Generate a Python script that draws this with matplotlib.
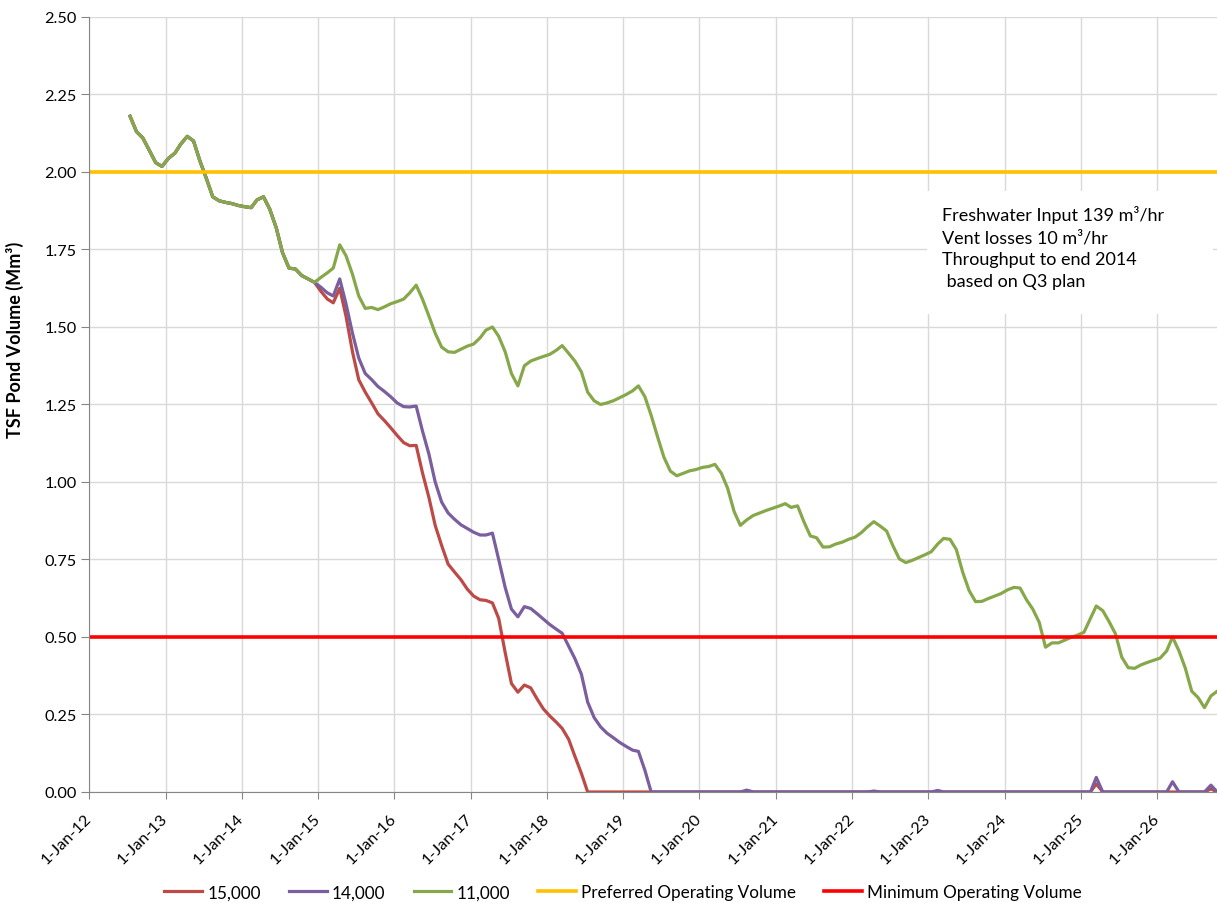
import pandas as pd
import matplotlib
matplotlib.use('Agg')
import matplotlib.pyplot as plt
import matplotlib.dates as mdates
from matplotlib.patches import Rectangle
from matplotlib.ticker import FuncFormatter, MultipleLocator

plt.rcParams['font.family'] = ['Lato', 'DejaVu Sans']

# monthly pond volume (Mm3), one value per month from Jul 2012
first_month = '2012-07-01'

green_11000 = [
    2.18, 2.13, 2.109, 2.07, 2.03, 2.018,                              # 2012
    2.044, 2.061, 2.09, 2.115, 2.10, 2.035, 1.98, 1.92, 1.907, 1.902, 1.898, 1.892,  # 2013
    1.888, 1.885, 1.91, 1.92, 1.88, 1.82, 1.74, 1.69, 1.687, 1.666, 1.655, 1.644,    # 2014
    1.66, 1.675, 1.69, 1.765, 1.73, 1.67, 1.60, 1.56, 1.563, 1.556, 1.565, 1.575,    # 2015
    1.582, 1.59, 1.61, 1.635, 1.59, 1.535, 1.48, 1.435, 1.42, 1.418, 1.428, 1.438,   # 2016
    1.445, 1.465, 1.49, 1.50, 1.47, 1.42, 1.35, 1.31, 1.375, 1.39, 1.398, 1.405,     # 2017
    1.412, 1.425, 1.44, 1.415, 1.39, 1.355, 1.29, 1.262, 1.25, 1.255, 1.262, 1.272,  # 2018
    1.282, 1.294, 1.31, 1.275, 1.215, 1.145, 1.08, 1.035, 1.02, 1.028, 1.036, 1.040, # 2019
    1.047, 1.05, 1.057, 1.028, 0.98, 0.905, 0.86, 0.878, 0.892, 0.90, 0.908, 0.915,  # 2020
    0.922, 0.93, 0.918, 0.923, 0.872, 0.826, 0.82, 0.79, 0.791, 0.80, 0.806, 0.815,  # 2021
    0.822, 0.837, 0.855, 0.872, 0.858, 0.842, 0.795, 0.752, 0.74, 0.747, 0.756, 0.765,  # 2022
    0.775, 0.80, 0.818, 0.815, 0.782, 0.708, 0.65, 0.614, 0.615, 0.624, 0.632, 0.64,    # 2023
    0.652, 0.66, 0.658, 0.62, 0.59, 0.547, 0.467, 0.481, 0.481, 0.49, 0.499, 0.506,     # 2024
    0.515, 0.56, 0.60, 0.585, 0.55, 0.51, 0.435, 0.401, 0.399, 0.41, 0.418, 0.425,      # 2025
    0.432, 0.455, 0.50, 0.455, 0.40, 0.325, 0.305, 0.272, 0.31, 0.325,                  # 2026
]

# 15,000 and 14,000 follow the 11,000 case until Dec 2014
red_15000 = green_11000[:29] + [
    1.644, 1.615, 1.59, 1.578, 1.625, 1.535, 1.42, 1.33, 1.29, 1.255, 1.22, 1.198,
    1.175, 1.15, 1.127, 1.117, 1.118, 1.03, 0.95, 0.86, 0.795, 0.735, 0.71, 0.685,
    0.655, 0.632, 0.62, 0.618, 0.61, 0.56, 0.45, 0.35, 0.322, 0.345, 0.336, 0.30,
    0.268, 0.245, 0.225, 0.205, 0.17, 0.115, 0.06, 0.0,
] + [0.0] * 79 + [0.026] + [0.0] * 17 + [0.01, 0.0]

purple_14000 = green_11000[:29] + [
    1.644, 1.628, 1.61, 1.60, 1.655, 1.575, 1.48, 1.40, 1.35, 1.33, 1.308, 1.292,
    1.275, 1.255, 1.243, 1.242, 1.245, 1.165, 1.09, 1.0, 0.935, 0.90, 0.88, 0.862,
    0.85, 0.838, 0.829, 0.829, 0.835, 0.75, 0.66, 0.59, 0.565, 0.598, 0.592, 0.575,
    0.558, 0.54, 0.525, 0.512, 0.47, 0.43, 0.38, 0.29, 0.24, 0.21, 0.19, 0.175,
    0.16, 0.147, 0.135, 0.131, 0.07, 0.0,
] + ([0.0] * 14 + [0.006] + [0.0] * 19 + [0.003] + [0.0] * 9 + [0.005]
     + [0.0] * 24 + [0.047] + [0.0] * 11 + [0.033] + [0.0] * 5 + [0.022, 0.0])

preferred_volume = 2.00
minimum_volume = 0.50

note = ('Freshwater Input 139 m\u00b3/hr\n'
        'Vent losses 10 m\u00b3/hr\n'
        'Throughput to end 2014\n'
        ' based on Q3 plan')

months = pd.date_range(first_month, periods=len(green_11000), freq='MS') + pd.Timedelta(days=14)

fig = plt.figure(figsize=(12.17, 9.04), dpi=100)
ax = fig.add_axes([0.0732, 0.1228, 0.9268, 0.8573])

lw = 2.3
ax.plot(months, red_15000, color='#BC4A47', lw=lw, label='15,000')
ax.plot(months, purple_14000, color='#7A5E9E', lw=lw, label='14,000')
ax.plot(months, green_11000, color='#86A84A', lw=lw, label='11,000')
ax.axhline(preferred_volume, color='#FFC000', lw=2.6, label='Preferred Operating Volume')
ax.axhline(minimum_volume, color='#FF0000', lw=2.6, label='Minimum Operating Volume')

ax.set_xlim(pd.Timestamp('2012-01-01'), pd.Timestamp('2026-10-14'))
ax.set_ylim(0, 2.5)
ax.yaxis.set_major_locator(MultipleLocator(0.25))
ax.yaxis.set_major_formatter(FuncFormatter(lambda v, p: '{:.2f}'.format(v)))
ax.xaxis.set_major_locator(mdates.YearLocator())


def date_label(v, p):
    d = mdates.num2date(v)
    return '{}-{}-{}'.format(d.day, d.strftime('%b'), d.strftime('%y'))


ax.xaxis.set_major_formatter(FuncFormatter(date_label))

ax.set_axisbelow(True)
ax.grid(color='#d9d9d9', lw=1)
for side in ('top', 'right'):
    ax.spines[side].set_visible(False)
for side in ('left', 'bottom'):
    ax.spines[side].set_color('#868686')
ax.tick_params(axis='y', length=6, color='#868686', labelsize=11.7, pad=3)
ax.tick_params(axis='x', length=5, color='#868686', labelsize=11.7, pad=12)
for lab in ax.get_xticklabels():
    lab.set_rotation(45)
    lab.set_ha('right')
    lab.set_va('center')
    lab.set_rotation_mode('anchor')

ax.set_ylabel('TSF Pond Volume (Mm\u00b3)', fontweight='bold', fontsize=13)
ax.yaxis.set_label_coords(-0.0576, 0.585)

ax.add_patch(Rectangle((0.743, 0.617), 0.2535, 0.159, transform=ax.transAxes,
                       facecolor='white', edgecolor='none', zorder=1))
ax.text(0.756, 0.757, note, transform=ax.transAxes, fontsize=13,
        va='top', ha='left', linespacing=1.45, zorder=2)

handles, labels = ax.get_legend_handles_labels()
fig.legend(handles, labels, loc='center', bbox_to_anchor=(0.512, 0.012), ncol=5,
           frameon=False, fontsize=12.3, handlelength=2.2, handletextpad=0.3,
           columnspacing=1.66)

fig.savefig('out.png', dpi=100)
